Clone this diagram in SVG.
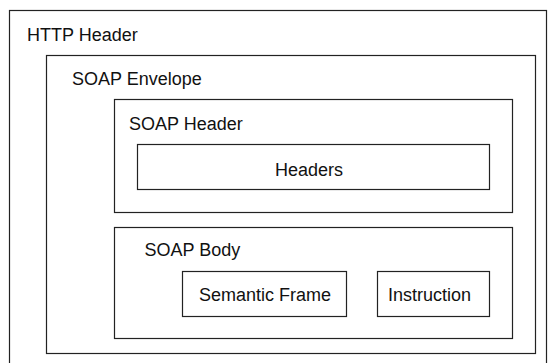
<svg xmlns="http://www.w3.org/2000/svg" width="555" height="363" viewBox="0 0 555 363">
<style>
rect{fill:none;stroke:#222;stroke-width:1.2}
text{font-family:"Liberation Sans",Arial,sans-serif;font-size:18px;fill:#111}
</style>
<rect x="0" y="0" width="555" height="363" style="fill:#fff;stroke:none"/>
<g id="http"><rect x="9.5" y="10.5" width="537" height="360"/><text x="27" y="40.5">HTTP Header</text></g>
<g id="envelope"><rect x="46.5" y="55.5" width="489" height="298"/><text x="72" y="84.5">SOAP Envelope</text></g>
<g id="soapheader"><rect x="114.5" y="99.5" width="398" height="113"/><text x="129" y="129.5">SOAP Header</text></g>
<g id="headers"><rect x="137.5" y="144.5" width="352" height="45"/><text x="275" y="176">Headers</text></g>
<g id="soapbody"><rect x="114.5" y="227.5" width="398" height="111"/><text x="144.5" y="256">SOAP Body</text></g>
<g id="semantic"><rect x="182.5" y="271.5" width="164" height="45"/><text x="199" y="300.5">Semantic Frame</text></g>
<g id="instruction"><rect x="377.5" y="271.5" width="112" height="45"/><text x="388" y="300.5">Instruction</text></g>
<g id="connectors"></g>
</svg>
